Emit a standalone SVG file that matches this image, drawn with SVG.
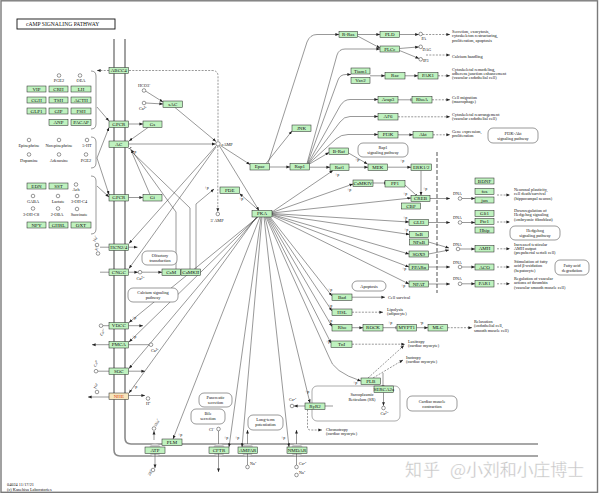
<svg xmlns="http://www.w3.org/2000/svg" width="600" height="494" viewBox="0 0 600 494">
<defs>
<style>
.b{fill:#bff2bf;stroke:#1e1e1e;stroke-width:0.5}
.t{font-family:"Liberation Serif",serif;font-size:5px;text-anchor:middle;fill:#111}
.s{font-family:"Liberation Serif",serif;font-size:4.3px;fill:#111}
.sc{font-family:"Liberation Serif",serif;font-size:4.3px;fill:#111;text-anchor:middle}
.p{font-family:"Liberation Serif",serif;font-size:4px;fill:#111}
.l{fill:none;stroke:#333;stroke-width:0.5}
.d{stroke-dasharray:2 1.3}
.c{fill:#fff;stroke:#333;stroke-width:0.5}
.o{fill:#fff;stroke:#555;stroke-width:0.6}
.m{fill:none;stroke:#8a8a8a;stroke-width:1.6}
.g{fill:#cdcdcd}
.a{marker-end:url(#a)}
.i{marker-end:url(#i)}
</style>
<marker id="a" viewBox="0 0 10 10" refX="10" refY="5" markerWidth="3.6" markerHeight="3.6" markerUnits="userSpaceOnUse" orient="auto"><path d="M0,1 L10,5 L0,9z" fill="#222"/></marker>
<marker id="i" viewBox="0 0 4 10" refX="2" refY="5" markerWidth="1.2" markerHeight="4" markerUnits="userSpaceOnUse" orient="auto"><path d="M2,0 V10" stroke="#222" stroke-width="2.4"/></marker>
</defs>
<rect x="0" y="0" width="600" height="494" fill="#fff"/>
<rect x="1" y="0.8" width="596.5" height="491.5" fill="none" stroke="#7a7a7a" stroke-width="1.4"/>
<g id="title"><rect x="17" y="19" width="98" height="10" fill="#fff" stroke="#111" stroke-width="0.9"/><text x="26" y="26.2" font-family="Liberation Serif,serif" font-size="5.6" fill="#111">cAMP SIGNALING PATHWAY</text></g>

<g id="membrane">
<path class="m" d="M114,39 V450 Q114,456 120,456 H538"/>
<path class="m" d="M125,39 V438 Q125,444 131,444 H538"/>
<circle class="g" cx="155" cy="450" r="6.5"/><circle class="g" cx="219" cy="450" r="6.5"/><circle class="g" cx="247.5" cy="450" r="6.5"/><circle class="g" cx="297" cy="450" r="6.5"/>
<rect x="436" y="152" width="2" height="141" fill="none"/>
<path d="M437,152 V293" stroke="#a8a8a8" stroke-width="2" stroke-dasharray="4 2" fill="none"/>
<rect x="312" y="386" width="88" height="35" rx="5" fill="none" stroke="#888" stroke-width="0.7"/>
<text class="sc" x="362" y="396">Sarcoplasmic</text><text class="sc" x="362" y="401">Reticulum (SR)</text>
</g>

<g id="connectors">
<path class="l" d="M91,71 Q96,71 96,76 V124 Q96,129 91,129"/>
<path class="l" d="M91,137 Q96,137 96,142 V163 Q96,168 91,168"/>
<path class="l" d="M91,176 Q96,176 96,181 V229 Q96,234 91,234"/>
<path class="l a" d="M97,107 L109,121"/>
<path class="l a" d="M97,158 L109,127.5"/>
<path class="l a" d="M97,158 L109,194.5"/>
<path class="l a" d="M97,186 L109,197"/>
<path class="l a" d="M128.5,124 H143"/>
<path class="l a" d="M148,127.5 L129,141"/>
<path class="l a" d="M128.5,197.5 H143"/>
<path class="l i" d="M150,194.5 L130,148"/>
<path class="l a" d="M128.5,144 H215.5"/>
<path class="l a" d="M145.5,91 L163,102"/>
<path class="l a" d="M146,103 L163,104"/>
<path class="l a" d="M175,107.5 L216,141.5"/>
<path class="l d a" d="M109,70.5 H97"/>
<path class="l d" d="M218,141 V76 Q218,70.5 212,70.5 H128.5"/>
<path class="l d a" d="M217.8,146 V211.8"/>
<path class="l a" d="M219.5,146 L259,210.5"/>
<path class="l a" d="M220.5,145.5 L250,164.5"/>
<path class="l a" d="M216,146 L129,243.5"/>
<path class="l a" d="M216,147 L129,268.5"/>
<path class="l a" d="M176,269 V212 L131,149.5"/>
<path class="l i" d="M190,269 V208 L132,152"/>
<path class="l a" d="M196,269 V204 L214,189"/>
<path class="l a" d="M259,210.5 L239.5,193.5"/>
<path class="l a" d="M269.5,167 H290"/>
<path class="l a" d="M266,163.5 L292,131"/>
<path class="l a" d="M268,163.5 L307,42 Q310,34.5 317,34.5 H339"/>
<path class="l a" d="M357.5,34.5 H380"/>
<path class="l a" d="M357.5,36 L380,48"/>
<path class="l a" d="M399.5,34.5 H418.8"/>
<path class="l d a" d="M422.5,34.5 H450"/>
<path class="l a" d="M399.5,48.5 L418.8,46.9"/>
<path class="l a" d="M399.5,50.5 L419,58.5"/>
<path class="l d a" d="M426,55 H450"/>
<path class="l a" d="M307,163.5 L337,55 Q339,49 345,49 H380"/>
<path class="l a" d="M307.5,163.5 L338,80 Q340,74.5 346,74.5 H351"/>
<path class="l a" d="M308,163.5 L340,106 Q344,99.5 350,99.5 H378"/>
<path class="l a" d="M308.5,163.5 L340,122 Q344,116.5 350,116.5 H378"/>
<path class="l a" d="M309,163.5 L336,139 Q341,134.5 348,134.5 H378"/>
<path class="l a" d="M309.5,164 L329,152.5"/>
<path class="l a" d="M370,75.8 H385"/>
<path class="l a" d="M405,75.8 H418"/>
<path class="l d a" d="M438,75.8 H450"/>
<path class="l i" d="M398,99.8 H411"/>
<path class="l d a" d="M432,99.8 H450"/>
<path class="l d a" d="M398,116.8 H450"/>
<path class="l a" d="M398,134.8 H413"/>
<path class="l d a" d="M433,134.8 H450"/>
<path class="l a" d="M309.5,167.2 H330"/>
<path class="l a" d="M349,167.2 H368"/>
<path class="l a" d="M387.5,167.2 H411"/>
<path class="l a" d="M348.5,153 L367.5,164"/>
<path class="l a" d="M421,170.5 V195.5"/>
<path class="l i" d="M373,183 H384.5"/>
<path class="l i" d="M405,185 L416,195"/>
<path class="l a" d="M272,212 L333,170.5"/>
<path class="l a" d="M272,212.5 L353,184"/>
<path class="l a" d="M272,213 L411,198"/>
<path class="l a" d="M272,213.5 L409,222"/>
<path class="l a" d="M272,214 L409.5,234.5"/>
<path class="l a" d="M272,214.5 L409,254"/>
<path class="l a" d="M272,215 L409,267"/>
<path class="l a" d="M272,216 L409,284"/>
<path class="l a" d="M270,217 L332,296"/>
<path class="l a" d="M269,217 L332,311"/>
<path class="l a" d="M268,217 L332,326.5"/>
<path class="l a" d="M267,217 L331,343"/>
<path class="l a" d="M266,217 L329,357 Q333,372 361,381"/>
<path class="l a" d="M265,217 L310,403"/>
<path class="l a" d="M258,217 L129,322.5"/>
<path class="l a" d="M257.5,217 L129,342"/>
<path class="l a" d="M257,217 L129,368.5"/>
<path class="l a" d="M256.5,217 L129,393"/>
<path class="l a" d="M260,217 L173,439"/>
<path class="l a" d="M261,217 L229,447"/>
<path class="l a" d="M262,217 L242,447"/>
<path class="l a" d="M264,217 L289,447"/>
<path class="l a" d="M352,297.2 H385"/>
<path class="l d a" d="M352,312.2 H383"/>
<path class="l a" d="M352,327.7 H363"/>
<path class="l i" d="M383,327.7 H396"/>
<path class="l a" d="M416.5,327.7 H428"/>
<path class="l d a" d="M447.5,327.7 H472"/>
<path class="l d a" d="M352,344.2 H405"/>
<path class="l d a" d="M368,378 L404,345.5"/>
<path class="l d a" d="M373,378 L403,360"/>
<path class="l i" d="M383,373 V386"/>
<path class="l a" d="M383.5,392.5 V405.8"/>
<path class="l a" d="M305,406 H294"/>
<path class="l" d="M325,406 H333"/>
<path class="l d a" d="M307.5,409.5 V427 Q307.5,430 310.5,430 H322"/>
<path class="l a" d="M430,198.5 H450"/>
<path class="l a" d="M428.5,222.5 H450"/>
<path class="l a" d="M428.5,242 L449,248"/>
<path class="l a" d="M428.5,254 L449,250"/>
<path class="l a" d="M428.5,267 H450"/>
<path class="l a" d="M428.5,284 H450"/>
<path class="l a" d="M462,198.5 H475"/>
<path class="l a" d="M462,222.5 H475"/>
<path class="l a" d="M460,249 H475"/>
<path class="l a" d="M462,267 H475"/>
<path class="l a" d="M462,283.8 H475"/>
<path class="l d a" d="M497,195 H510"/>
<path class="l d a" d="M497,222 H510"/>
<path class="l d a" d="M497,248.8 H510"/>
<path class="l d a" d="M497,267 H510"/>
<path class="l d a" d="M497,283.8 H510"/>
<path class="l" d="M100,247.2 H109"/>
<path class="l a" d="M128.5,247.2 H137.5"/>
<path class="l" d="M100,272.2 H109"/>
<path class="l a" d="M128.5,272.2 H138"/>
<path class="l a" d="M142,272.2 H162"/>
<path class="l" d="M103,325.7 H109"/>
<path class="l a" d="M128.5,325.7 H143"/>
<path class="l a" d="M109,344.7 H92"/>
<path class="l" d="M128.5,344.7 H149"/>
<path class="l" d="M98,371.2 H109"/>
<path class="l a" d="M128.5,371.2 H145"/>
<path class="l a" d="M109,397 H88"/>
<path class="l a" d="M128.5,395.5 H145"/>
<path class="l a" d="M154,440 V431"/>
<path class="l a" d="M155,453.5 V468"/>
<path class="l a" d="M218.5,453.5 V472"/>
<path class="l" d="M218.5,431 V444"/>
<path class="l a" d="M247.5,444 V430"/>
<path class="l" d="M247.5,453.5 V465"/>
<path class="l a" d="M296.5,444 V430"/>
<path class="l" d="M296.5,453.5 V465"/>
</g>

<g id="small-molecules">
<circle class="c" cx="59" cy="75.5" r="1.8"/><text class="sc" x="59" y="82">PGE2</text>
<circle class="c" cx="80" cy="75.5" r="1.8"/><text class="sc" x="81" y="82">OEA</text>
<circle class="c" cx="29" cy="140" r="1.8"/><text class="sc" x="29" y="147">Epinephrine</text>
<circle class="c" cx="59" cy="140" r="1.8"/><text class="sc" x="59" y="147">Norepinephrine</text>
<circle class="c" cx="87" cy="140" r="1.8"/><text class="sc" x="87" y="147">5-HT</text>
<circle class="c" cx="29" cy="154.5" r="1.8"/><text class="sc" x="29" y="162">Dopamine</text>
<circle class="c" cx="59" cy="154.5" r="1.8"/><text class="sc" x="59" y="162">Adenosine</text>
<circle class="c" cx="86" cy="154.5" r="1.8"/><text class="sc" x="86" y="162">PGE2</text>
<circle class="c" cx="76" cy="184.5" r="1.8"/><text class="sc" x="76" y="191">Ach</text>
<circle class="c" cx="33" cy="196" r="1.8"/><text class="sc" x="33" y="203">GABA</text>
<circle class="c" cx="58" cy="196" r="1.8"/><text class="sc" x="58" y="203">Lactate</text>
<circle class="c" cx="77" cy="196" r="1.8"/><text class="sc" x="79" y="203">3-OH-C4</text>
<circle class="c" cx="33" cy="208.5" r="1.8"/><text class="sc" x="31" y="216">3-OH-C8</text>
<circle class="c" cx="58" cy="208.5" r="1.8"/><text class="sc" x="57" y="216">2-OBA</text>
<circle class="c" cx="77" cy="209" r="1.8"/><text class="sc" x="79" y="216">Succinate</text>
<circle class="c" cx="144" cy="90.5" r="1.8"/><text class="s" x="138" y="87">HCO3⁻</text>
<circle class="c" cx="144" cy="103" r="1.8"/><text class="s" x="139" y="110">Ca²⁺</text>
<circle class="c" cx="218" cy="143.8" r="2.2"/><text class="s" x="221.5" y="146">cAMP</text>
<circle class="c" cx="217.8" cy="214" r="1.8"/><text class="sc" x="217" y="222">5' AMP</text>
<circle class="c" cx="97" cy="245" r="1.8"/><text class="p" transform="translate(95,242) rotate(-60)">Na⁺</text>
<circle class="c" cx="98" cy="253.5" r="1.8"/><text class="p" transform="translate(97,251) rotate(-60)">K⁺</text>
<circle class="c" cx="140" cy="272.2" r="1.8"/><text class="sc" x="140" y="280">Ca²⁺</text>
<circle class="c" cx="101" cy="325.7" r="1.8"/><text class="p" transform="translate(102,336) rotate(-60)">Ca²⁺</text>
<circle class="c" cx="151" cy="344.7" r="1.8"/><text class="s" x="151" y="352">Ca²⁺</text>
<circle class="c" cx="96" cy="371.2" r="1.8"/><text class="p" transform="translate(96,367) rotate(-70)">Ca²⁺</text>
<circle class="c" cx="97" cy="392" r="1.8"/><text class="p" transform="translate(96,389) rotate(-70)">Na⁺</text>
<circle class="c" cx="148" cy="398.5" r="1.8"/><text class="s" x="146" y="405">H⁺</text>
<circle class="c" cx="154" cy="428.5" r="1.8"/><text class="p" transform="translate(156,427) rotate(-60)">3Na⁺</text>
<circle class="c" cx="153" cy="470" r="1.8"/><text class="p" transform="translate(150,476) rotate(-60)">2K⁺</text>
<circle class="c" cx="218.5" cy="429" r="1.8"/><text class="s" x="209" y="431">Cl⁻</text>
<circle class="c" cx="247.5" cy="467" r="1.8"/><text class="p" x="250" y="465">Na⁺</text>
<circle class="c" cx="296.5" cy="467" r="1.8"/><text class="p" x="299" y="465">Ca²⁺</text>
<circle class="c" cx="296.5" cy="475" r="1.8"/><text class="p" x="299" y="474">Na⁺</text>
<circle class="c" cx="292" cy="406" r="1.8"/><text class="p" x="289" y="401">Ca²⁺</text>
<circle class="c" cx="383.5" cy="408" r="1.8"/><text class="sc" x="384" y="415">Ca²⁺</text>
<circle class="c" cx="420.7" cy="34" r="1.8"/><text class="p" x="421.5" y="39.5">PA</text>
<circle class="c" cx="420.7" cy="46.8" r="1.8"/><text class="p" x="422.5" y="51">DAG</text>
<circle class="c" cx="420.7" cy="59.3" r="1.8"/><text class="p" x="423" y="62">IP3</text>
<circle class="c" cx="460" cy="198.5" r="1.8"/><text class="p" x="453" y="195">DNA</text>
<circle class="c" cx="460" cy="222.5" r="1.8"/><text class="p" x="453" y="219">DNA</text>
<circle class="c" cx="458" cy="249" r="1.8"/><text class="p" x="453" y="245.5">DNA</text>
<circle class="c" cx="460" cy="267" r="1.8"/><text class="p" x="453" y="263.5">DNA</text>
<circle class="c" cx="460" cy="283.8" r="1.8"/><text class="p" x="453" y="280">DNA</text>
</g>

<g id="plabels" class="p">
<text x="132" y="153">+p</text><text x="204.5" y="189">+p</text><text x="239" y="200">+p</text>
<text x="335" y="176">+p</text><text x="347" y="191">+p</text><text x="355" y="161">+p</text><text x="400" y="162">+p</text>
<text x="423" y="190">+p</text><text x="403" y="195">+p</text><text x="403" y="219">+p</text><text x="404" y="231">+p</text>
<text x="402" y="270">+p</text><text x="401" y="287">+p</text><text x="328" y="291">+p</text><text x="328" y="307">+p</text>
<text x="328" y="322">+p</text><text x="326" y="343">+p</text><text x="353" y="384">+p</text><text x="305" y="393">+p</text>
<text x="388" y="324">+p</text><text x="420" y="324">-p</text>
<text x="132" y="319">+p</text><text x="132" y="338">+p</text><text x="133" y="388">+p</text>
<text x="178" y="436">+p</text><text x="224" y="439">+p</text><text x="235" y="439">+p</text><text x="281" y="439">+p</text>
</g>

<g id="ovals">
<g id="olfactory"><rect class="o" x="142" y="251" width="35" height="14" rx="5"/><text class="sc" x="160" y="257">Olfactory</text><text class="sc" x="160" y="262">transduction</text></g>
<g id="calcium"><rect class="o" x="128" y="288" width="50" height="14" rx="5"/><text class="sc" x="153" y="294">Calcium signaling</text><text class="sc" x="153" y="299">pathway</text></g>
<g id="rap1path"><rect class="o" x="358" y="143" width="50" height="14" rx="5"/><text class="sc" x="383" y="149">Rap1</text><text class="sc" x="383" y="154">signaling pathway</text></g>
<g id="pi3kpath"><rect class="o" x="488" y="128" width="50" height="15" rx="5"/><text class="sc" x="513" y="134.5">PI3K-Akt</text><text class="sc" x="513" y="139.5">signaling pathway</text></g>
<g id="hhpath"><rect class="o" x="510" y="226" width="50" height="14" rx="5"/><text class="sc" x="535" y="232">Hedgehog</text><text class="sc" x="535" y="237">signaling pathway</text></g>
<g id="fapath"><rect class="o" x="555" y="260" width="34" height="15" rx="5"/><text class="sc" x="572" y="266.5">Fatty acid</text><text class="sc" x="572" y="271.5">degradation</text></g>
<g id="apoptosis"><rect class="o" x="352" y="281" width="34" height="10" rx="5"/><text class="sc" x="369" y="287.5">Apoptosis</text></g>
<g id="pancreatic"><rect class="o" x="199" y="393" width="33" height="14" rx="5"/><text class="sc" x="215.5" y="399">Pancreatic</text><text class="sc" x="215.5" y="404">secretion</text></g>
<g id="bile"><rect class="o" x="191" y="409" width="34" height="15" rx="5"/><text class="sc" x="208" y="415">Bile</text><text class="sc" x="208" y="420">secretion</text></g>
<g id="ltp"><rect class="o" x="248" y="415" width="35" height="15" rx="5"/><text class="sc" x="265.5" y="421">Long-term</text><text class="sc" x="265.5" y="426">potentiation</text></g>
<g id="cardiac"><rect class="o" x="407" y="396" width="50" height="15" rx="5"/><text class="sc" x="432" y="402.5">Cardiac muscle</text><text class="sc" x="432" y="407.5">contraction</text></g>
</g>

<g id="outcomes" class="s">
<text x="452" y="33">Secretion, exocytosis,</text><text x="452" y="37.3">cytoskeleton restructuring,</text><text x="452" y="41.6">proliferation, apoptosis</text>
<text x="452" y="58">Calcium handling</text>
<text x="452" y="70.5">Cytoskeletal remodeling,</text><text x="452" y="74.8">adherens junction enhancement</text><text x="452" y="79.1">(vascular endothelial cell)</text>
<text x="452" y="99">Cell migration</text><text x="452" y="103.3">(macrophage)</text>
<text x="452" y="116">Cytoskeletal rearrangement</text><text x="452" y="120.3">(vascular endothelial cell)</text>
<text x="452" y="133">Gene expression,</text><text x="452" y="137.3">proliferation</text>
<text x="514" y="191">Neuronal plasticity,</text><text x="514" y="195.3">cell death/survival</text><text x="514" y="199.6">(hippocampal neuron)</text>
<text x="514" y="212">Downregulation of</text><text x="514" y="216.3">Hedgehog signaling</text><text x="514" y="220.6">(embryonic fibroblast)</text>
<text x="514" y="245.5">Increased testicular</text><text x="514" y="249.8">AMH output</text><text x="514" y="254.1">(prepubertal sertoli cell)</text>
<text x="514" y="263">Stimulation of fatty</text><text x="514" y="267.3">acid β-oxidation</text><text x="514" y="271.6">(hepatocyte)</text>
<text x="514" y="280">Regulation of vascular</text><text x="514" y="284.3">actions of thrombin</text><text x="514" y="288.6">(vascular smooth muscle cell)</text>
<text x="388" y="299">Cell survival</text>
<text x="387" y="311">Lipolysis</text><text x="387" y="315.3">(adipocyte)</text>
<text x="474" y="323">Relaxation</text><text x="474" y="327.3">(endothelial cell,</text><text x="474" y="331.6">smooth muscle cell)</text>
<text x="408" y="343">Lusitropy</text><text x="408" y="347.3">(cardiac myocyte)</text>
<text x="406" y="359">Inotropy</text><text x="406" y="363.3">(cardiac myocyte)</text>
<text x="326" y="431">Chronotropy</text><text x="326" y="435.3">(cardiac myocyte)</text>
</g>

<g id="nodes">
<g id="n-VIP"><rect class="b" x="27" y="86" width="19" height="6"/><text class="t" x="36.5" y="90.6">VIP</text></g>
<g id="n-CRH"><rect class="b" x="49" y="86" width="19" height="6"/><text class="t" x="58.5" y="90.6">CRH</text></g>
<g id="n-LH"><rect class="b" x="71" y="86" width="20" height="6"/><text class="t" x="81" y="90.6">LH</text></g>
<g id="n-CGH"><rect class="b" x="27" y="97" width="19" height="6"/><text class="t" x="36.5" y="101.6">CGH</text></g>
<g id="n-TSH"><rect class="b" x="49" y="97" width="19" height="6"/><text class="t" x="58.5" y="101.6">TSH</text></g>
<g id="n-ACTH"><rect class="b" x="71" y="97" width="20" height="6"/><text class="t" x="81" y="101.6">ACTH</text></g>
<g id="n-GLP1"><rect class="b" x="27" y="108" width="19" height="6"/><text class="t" x="36.5" y="112.6">GLP1</text></g>
<g id="n-GIP"><rect class="b" x="49" y="108" width="19" height="6"/><text class="t" x="58.5" y="112.6">GIP</text></g>
<g id="n-FSH"><rect class="b" x="71" y="108" width="20" height="6"/><text class="t" x="81" y="112.6">FSH</text></g>
<g id="n-ANP"><rect class="b" x="49" y="119.5" width="19" height="6"/><text class="t" x="58.5" y="124.1">ANP</text></g>
<g id="n-PACAP"><rect class="b" x="71" y="119.5" width="20" height="6"/><text class="t" x="81" y="124.1">PACAP</text></g>
<g id="n-EDN"><rect class="b" x="27" y="183" width="19" height="6"/><text class="t" x="36.5" y="187.6">EDN</text></g>
<g id="n-SST"><rect class="b" x="49" y="183" width="19" height="6"/><text class="t" x="58.5" y="187.6">SST</text></g>
<g id="n-NPY"><rect class="b" x="27" y="222" width="19" height="6"/><text class="t" x="36.5" y="226.6">NPY</text></g>
<g id="n-GHRL"><rect class="b" x="49" y="222" width="19" height="6"/><text class="t" x="58.5" y="226.6">GHRL</text></g>
<g id="n-OXT"><rect class="b" x="71" y="222" width="20" height="6"/><text class="t" x="81" y="226.6">OXT</text></g>

<g id="n-ABCC4"><rect class="b" x="109" y="67.5" width="19.5" height="6"/><text class="t" x="118.8" y="72.1">ABCC4</text></g>
<g id="n-GPCR1"><rect class="b" x="109" y="121" width="19.5" height="6.5"/><text class="t" x="118.8" y="125.8">GPCR</text></g>
<g id="n-AC"><rect class="b" x="109" y="141" width="19.5" height="6.5"/><text class="t" x="118.8" y="145.8">AC</text></g>
<g id="n-GPCR2"><rect class="b" x="109" y="194.5" width="19.5" height="6.5"/><text class="t" x="118.8" y="199.3">GPCR</text></g>
<g id="n-HCN"><rect class="b" x="109" y="244" width="19.5" height="6.5"/><text class="t" x="118.8" y="248.8">HCN2/4</text></g>
<g id="n-CNGC"><rect class="b" x="109" y="269" width="19.5" height="6.5"/><text class="t" x="118.8" y="273.8">CNGC</text></g>
<g id="n-VDCC"><rect class="b" x="109" y="322.5" width="19.5" height="6.5"/><text class="t" x="118.8" y="327.3">VDCC</text></g>
<g id="n-PMCA"><rect class="b" x="109" y="341.5" width="19.5" height="6.5"/><text class="t" x="118.8" y="346.3">PMCA</text></g>
<g id="n-SOC"><rect class="b" x="109" y="368" width="19.5" height="6.5"/><text class="t" x="118.8" y="372.8">SOC</text></g>
<g id="n-NHE"><rect x="109" y="393" width="19.5" height="6.5" fill="#f7e6bd" stroke="#1e1e1e" stroke-width="0.5"/><text class="t" x="118.8" y="397.8" style="fill:#d83a10">NHE</text></g>

<g id="n-Gs"><rect class="b" x="143" y="121" width="19" height="6.5"/><text class="t" x="152.5" y="125.8">Gs</text></g>
<g id="n-Gi"><rect class="b" x="143" y="194.5" width="19" height="6.5"/><text class="t" x="152.5" y="199.3">Gi</text></g>
<g id="n-sAC"><rect class="b" x="163" y="101" width="19.5" height="6.5"/><text class="t" x="172.8" y="105.8">sAC</text></g>
<g id="n-Epac"><rect class="b" x="250" y="163.5" width="19.5" height="6.5"/><text class="t" x="259.8" y="168.3">Epac</text></g>
<g id="n-Rap1"><rect class="b" x="290" y="163.5" width="19.5" height="6.5"/><text class="t" x="299.8" y="168.3">Rap1</text></g>
<g id="n-PDE"><rect class="b" x="220" y="187" width="19.5" height="6.5"/><text class="t" x="229.8" y="191.8">PDE</text></g>
<g id="n-PKA"><rect class="b" x="252" y="210.5" width="20" height="6.5"/><text class="t" x="262" y="215.3">PKA</text></g>
<g id="n-CaM"><rect class="b" x="162" y="269" width="18.5" height="6.5"/><text class="t" x="171.2" y="273.8">CaM</text></g>
<g id="n-CaMKII"><rect class="b" x="181" y="269" width="19.5" height="6.5"/><text class="t" x="190.8" y="273.8">CaMKII</text></g>
<g id="n-JNK"><rect class="b" x="292" y="125" width="19" height="6.5"/><text class="t" x="301.5" y="129.8">JNK</text></g>
<g id="n-RRas"><rect class="b" x="339" y="31.5" width="18.5" height="6"/><text class="t" x="348.2" y="36.1">R-Ras</text></g>
<g id="n-PLD"><rect class="b" x="380" y="31.5" width="19.5" height="6"/><text class="t" x="389.8" y="36.1">PLD</text></g>
<g id="n-PLCe"><rect class="b" x="380" y="46" width="19.5" height="6"/><text class="t" x="389.8" y="50.6">PLCε</text></g>
<g id="n-Tiam1"><rect class="b" x="351" y="68" width="19" height="6"/><text class="t" x="360.5" y="72.6">Tiam1</text></g>
<g id="n-Vav2"><rect class="b" x="351" y="77.5" width="19" height="6"/><text class="t" x="360.5" y="82.1">Vav2</text></g>
<g id="n-Rac"><rect class="b" x="385" y="72.5" width="20" height="6.5"/><text class="t" x="395" y="77.3">Rac</text></g>
<g id="n-PAK1"><rect class="b" x="418" y="72.5" width="20" height="6.5"/><text class="t" x="428" y="77.3">PAK1</text></g>
<g id="n-Arap3"><rect class="b" x="378" y="96.5" width="20" height="6.5"/><text class="t" x="388" y="101.3">Arap3</text></g>
<g id="n-RhoA"><rect class="b" x="412" y="96.5" width="20" height="6.5"/><text class="t" x="422" y="101.3">RhoA</text></g>
<g id="n-AF6"><rect class="b" x="378" y="113.5" width="20" height="6.5"/><text class="t" x="388" y="118.3">AF6</text></g>
<g id="n-PI3K"><rect class="b" x="378" y="131.5" width="20" height="6.5"/><text class="t" x="388" y="136.3">PI3K</text></g>
<g id="n-Akt"><rect class="b" x="413" y="131.5" width="20" height="6.5"/><text class="t" x="423" y="136.3">Akt</text></g>
<g id="n-BRaf"><rect class="b" x="329" y="148" width="19.5" height="6.5"/><text class="t" x="338.8" y="152.8">B-Raf</text></g>
<g id="n-Raf1"><rect class="b" x="330" y="164" width="19" height="6.5"/><text class="t" x="339.5" y="168.8">Raf1</text></g>
<g id="n-MEK"><rect class="b" x="368" y="164" width="19.5" height="6.5"/><text class="t" x="377.8" y="168.8">MEK</text></g>
<g id="n-ERK"><rect class="b" x="411" y="164" width="20.5" height="6.5"/><text class="t" x="421.2" y="168.8">ERK1/2</text></g>
<g id="n-CaMKIV"><rect class="b" x="353" y="180" width="20" height="6.5"/><text class="t" x="363" y="184.8">CaMKIV</text></g>
<g id="n-PP1"><rect class="b" x="385" y="180.5" width="20" height="6.5"/><text class="t" x="395" y="185.3">PP1</text></g>
<g id="n-CREB"><rect class="b" x="411" y="195.5" width="19" height="6"/><text class="t" x="420.5" y="200.1">CREB</text></g>
<g id="n-CBP"><rect class="b" x="401.5" y="203" width="19" height="6"/><text class="t" x="411" y="207.6">CBP</text></g>
<g id="n-GLI3"><rect class="b" x="409" y="219.5" width="19.5" height="6"/><text class="t" x="418.8" y="224.1">GLI3</text></g>
<g id="n-IkB"><rect class="b" x="409.5" y="231.5" width="19" height="6"/><text class="t" x="419" y="236.1">IκB</text></g>
<g id="n-NFkB"><rect class="b" x="409.5" y="239" width="19" height="6"/><text class="t" x="419" y="243.6">NFκB</text></g>
<g id="n-SOX9"><rect class="b" x="409" y="251" width="19.5" height="6"/><text class="t" x="418.8" y="255.6">SOX9</text></g>
<g id="n-PPARa"><rect class="b" x="409" y="264" width="19.5" height="6"/><text class="t" x="418.8" y="268.6">PPARα</text></g>
<g id="n-NFAT"><rect class="b" x="409" y="281" width="19.5" height="6"/><text class="t" x="418.8" y="285.6">NFAT</text></g>
<g id="n-BDNF"><rect class="b" x="475" y="178" width="19" height="6"/><text class="t" x="484.5" y="182.6">BDNF</text></g>
<g id="n-fos"><rect class="b" x="475" y="188.5" width="19" height="6"/><text class="t" x="484.5" y="193.1">fos</text></g>
<g id="n-jun"><rect class="b" x="475" y="197" width="19" height="6"/><text class="t" x="484.5" y="201.6">jun</text></g>
<g id="n-Gli1"><rect class="b" x="475" y="210.5" width="19" height="6"/><text class="t" x="484.5" y="215.1">Gli1</text></g>
<g id="n-Ptc1"><rect class="b" x="475" y="218.5" width="19" height="6"/><text class="t" x="484.5" y="223.1">Ptc1</text></g>
<g id="n-Hhip"><rect class="b" x="475" y="227" width="19" height="6"/><text class="t" x="484.5" y="231.6">Hhip</text></g>
<g id="n-AMH"><rect class="b" x="475" y="245.5" width="19" height="6.5"/><text class="t" x="484.5" y="250.3">AMH</text></g>
<g id="n-ACO"><rect class="b" x="475" y="264" width="19" height="6"/><text class="t" x="484.5" y="268.6">ACO</text></g>
<g id="n-PAR1"><rect class="b" x="475" y="280.5" width="19" height="6.5"/><text class="t" x="484.5" y="285.3">PAR1</text></g>
<g id="n-Bad"><rect class="b" x="332" y="294" width="20" height="6.5"/><text class="t" x="342" y="298.8">Bad</text></g>
<g id="n-HSL"><rect class="b" x="332" y="309" width="20" height="6.5"/><text class="t" x="342" y="313.8">HSL</text></g>
<g id="n-Rho"><rect class="b" x="332" y="324.5" width="20" height="6.5"/><text class="t" x="342" y="329.3">Rho</text></g>
<g id="n-ROCK"><rect class="b" x="363" y="324.5" width="20" height="6.5"/><text class="t" x="373" y="329.3">ROCK</text></g>
<g id="n-MYPT1"><rect class="b" x="397" y="324.5" width="19.5" height="6.5"/><text class="t" x="406.8" y="329.3">MYPT1</text></g>
<g id="n-MLC"><rect class="b" x="428" y="324.5" width="19.5" height="6.5"/><text class="t" x="437.8" y="329.3">MLC</text></g>
<g id="n-TnI"><rect class="b" x="331" y="341" width="21" height="6.5"/><text class="t" x="341.5" y="345.8">TnI</text></g>
<g id="n-PLB"><rect class="b" x="361" y="378" width="19.5" height="6.5"/><text class="t" x="370.8" y="382.8">PLB</text></g>
<g id="n-SERCA2a"><rect class="b" x="374" y="386" width="19.5" height="6.5"/><text class="t" x="383.8" y="390.8">SERCA2a</text></g>
<g id="n-RyR2"><rect class="b" x="305" y="403" width="20" height="6.5"/><text class="t" x="315" y="407.8">RyR2</text></g>
<g id="n-ATP"><rect class="b" x="145" y="447" width="20" height="6.5"/><text class="t" x="155" y="451.8">ATP</text></g>
<g id="n-PLM"><rect class="b" x="162" y="439" width="20" height="6.5"/><text class="t" x="172" y="443.8">PLM</text></g>
<g id="n-CFTR"><rect class="b" x="209" y="447" width="20" height="6.5"/><text class="t" x="219" y="451.8">CFTR</text></g>
<g id="n-AMPAR"><rect class="b" x="238" y="447" width="19.5" height="6.5"/><text class="t" x="247.8" y="451.8">AMPAR</text></g>
<g id="n-NMDAR"><rect class="b" x="287" y="447" width="20" height="6.5"/><text class="t" x="297" y="451.8">NMDAR</text></g>
</g>

<g id="footer"><text class="s" x="7" y="486">04024 11/17/21</text><text class="s" x="7" y="491">(c) Kanehisa Laboratories</text></g>
<g id="watermark" font-family="Noto Sans CJK SC, sans-serif" font-size="17" fill="#c4c4c4" stroke="#fff" stroke-width="0.3"><text x="405" y="476" textLength="35">知乎</text><text x="450" y="476" textLength="134">@小刘和小庄博士</text></g>
</svg>
